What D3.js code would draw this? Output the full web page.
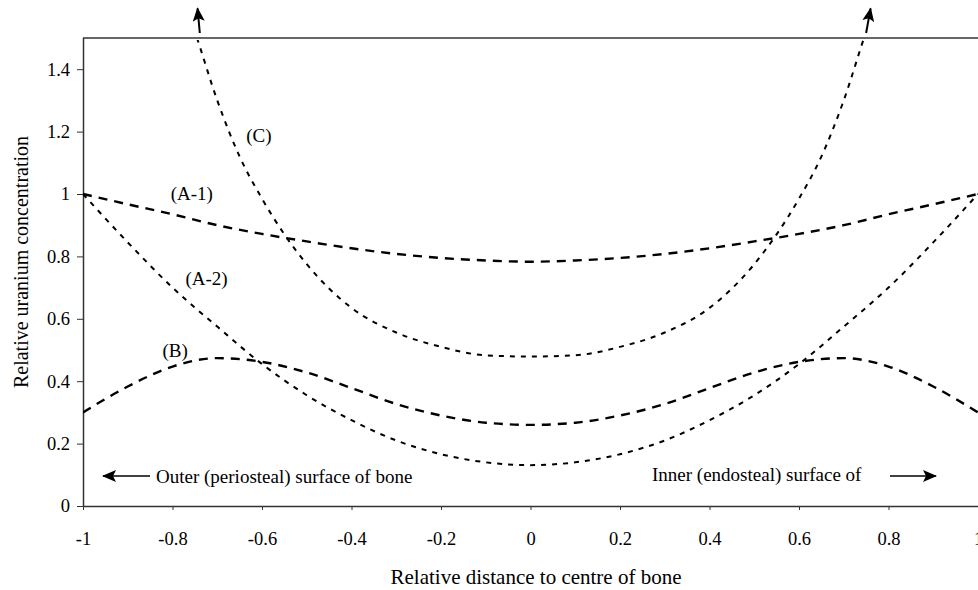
<!DOCTYPE html>
<html>
<head>
<meta charset="utf-8">
<script src="https://cdn.jsdelivr.net/npm/d3@7"></script>
<style>
  body { margin: 0; background: #fff; overflow: hidden; }
  svg { display: block; font-family: 'Times New Roman', 'Liberation Serif', serif; }
</style>
</head>
<body>
<div id="chart"></div>
<script>
// x positions (relative distance to centre of bone)
const xs = [-1, -0.9, -0.8, -0.7, -0.6, -0.5, -0.4, -0.3, -0.2, -0.1, 0,
            0.1, 0.2, 0.3, 0.4, 0.5, 0.6, 0.7, 0.8, 0.9, 1];
const a1 = [1.0, 0.967, 0.935, 0.90, 0.872, 0.848, 0.826, 0.808, 0.795, 0.787, 0.783,
            0.787, 0.795, 0.808, 0.826, 0.848, 0.872, 0.90, 0.935, 0.967, 1.0];
const a2 = [1.0, 0.845, 0.70, 0.575, 0.455, 0.355, 0.275, 0.21, 0.166, 0.14, 0.131,
            0.14, 0.166, 0.21, 0.275, 0.355, 0.455, 0.575, 0.70, 0.845, 1.0];
const b  = [0.30, 0.383, 0.447, 0.474, 0.462, 0.428, 0.378, 0.327, 0.29, 0.267, 0.26,
            0.267, 0.29, 0.327, 0.378, 0.428, 0.462, 0.474, 0.447, 0.383, 0.30];
// curve C leaves the plot at the top
const cx = [-0.77, -0.75, -0.7, -0.65, -0.6, -0.5, -0.4, -0.3, -0.2, -0.1, 0,
            0.1, 0.2, 0.3, 0.4, 0.5, 0.6, 0.65, 0.7, 0.75, 0.77];
const c  = [1.60, 1.52, 1.30, 1.12, 0.985, 0.775, 0.635, 0.556, 0.51, 0.483, 0.479,
            0.483, 0.51, 0.556, 0.635, 0.775, 0.985, 1.12, 1.30, 1.52, 1.60];

const xTicks = [-1, -0.8, -0.6, -0.4, -0.2, 0, 0.2, 0.4, 0.6, 0.8, 1];
const yTicks = [0, 0.2, 0.4, 0.6, 0.8, 1, 1.2, 1.4];

const curveLabels = [
  {text: '(A-1)', x: -0.757, y: 1.003},
  {text: '(A-2)', x: -0.724, y: 0.73},
  {text: '(B)', x: -0.794, y: 0.5},
  {text: '(C)', x: -0.607, y: 1.186}
];
// arrows at the ends of curve C, above the plot
const cArrows = [
  {x1: -0.739, y1: 1.516, x2: -0.744, y2: 1.595},
  {x1: 0.750, y1: 1.516, x2: 0.760, y2: 1.595}
];

const width = 978;
const height = 590;
const margin = {top: 38, right: 0, bottom: 84, left: 83};

const svg = d3.select('#chart')
  .append('svg')
  .attr('width', width)
  .attr('height', height);

const x = d3.scaleLinear()
  .domain([-1, 1])
  .range([margin.left, width - margin.right]);
const y = d3.scaleLinear()
  .domain([0, 1.5])
  .range([height - margin.bottom, margin.top]);

const defs = svg.append('defs');
defs.append('clipPath')
  .attr('id', 'plot-clip')
  .append('rect')
  .attr('x', margin.left)
  .attr('y', margin.top + 2)
  .attr('width', width - margin.left)
  .attr('height', y(0) - margin.top - 2);
defs.append('marker')
  .attr('id', 'head')
  .attr('viewBox', '0 0 14 12')
  .attr('refX', 13)
  .attr('refY', 6)
  .attr('markerUnits', 'userSpaceOnUse')
  .attr('markerWidth', 14)
  .attr('markerHeight', 12)
  .attr('orient', 'auto')
  .append('path')
  .attr('d', 'M0,0L14,6L0,12L3,6Z')
  .attr('fill', '#000');

const fmt = d => String(d);

// axes
const xAxis = svg.append('g')
  .attr('transform', `translate(0,${y(0)})`)
  .call(d3.axisBottom(x).tickValues(xTicks).tickSize(4).tickPadding(22).tickFormat(fmt));
const yAxis = svg.append('g')
  .attr('transform', `translate(${margin.left},0)`)
  .call(d3.axisLeft(y).tickValues(yTicks).tickSize(6).tickPadding(7).tickFormat(fmt));
[xAxis, yAxis].forEach(g => {
  g.select('.domain').attr('stroke', '#333').attr('stroke-width', 1.5);
  g.selectAll('.tick line').attr('stroke', '#333');
  g.selectAll('.tick text')
    .attr('fill', '#000')
    .style('font-family', "'Times New Roman', 'Liberation Serif', serif")
    .style('font-size', '18.5px');
});
yAxis.select('.domain').attr('d', `M0.5,${y(0)}V${margin.top}`);
xAxis.select('.domain').attr('d', `M${margin.left},0.5H${width}`);

// top border
svg.append('line')
  .attr('x1', margin.left)
  .attr('x2', width)
  .attr('y1', margin.top)
  .attr('y2', margin.top)
  .attr('stroke', '#333')
  .attr('stroke-width', 1.5);

const line = d3.line()
  .x(d => x(d[0]))
  .y(d => y(d[1]))
  .curve(d3.curveMonotoneX);

const series = [
  {name: 'A-1', px: xs, py: a1, dash: '9,7', w: 2.4},
  {name: 'A-2', px: xs, py: a2, dash: '5,6', w: 2},
  {name: 'B', px: xs, py: b, dash: '9,7', w: 2.4},
  {name: 'C', px: cx, py: c, dash: '5,6', w: 2}
];

svg.append('g')
  .attr('clip-path', 'url(#plot-clip)')
  .selectAll('path')
  .data(series)
  .join('path')
  .attr('d', d => line(d.px.map((v, i) => [v, d.py[i]])))
  .attr('fill', 'none')
  .attr('stroke', '#000')
  .attr('stroke-width', d => d.w)
  .attr('stroke-dasharray', d => d.dash);

svg.append('g')
  .selectAll('line')
  .data(cArrows)
  .join('line')
  .attr('x1', d => x(d.x1))
  .attr('y1', d => y(d.y1))
  .attr('x2', d => x(d.x2))
  .attr('y2', d => y(d.y2))
  .attr('stroke', '#000')
  .attr('stroke-width', 2)
  .attr('marker-end', 'url(#head)');

svg.append('g')
  .selectAll('text')
  .data(curveLabels)
  .join('text')
  .attr('x', d => x(d.x))
  .attr('y', d => y(d.y))
  .attr('text-anchor', 'middle')
  .attr('dominant-baseline', 'central')
  .style('font-size', '19px')
  .text(d => d.text);

// surface annotations
svg.append('line')
  .attr('x1', 150).attr('y1', 476)
  .attr('x2', 103).attr('y2', 476)
  .attr('stroke', '#000')
  .attr('stroke-width', 1.5)
  .attr('marker-end', 'url(#head)');
svg.append('text')
  .attr('x', 156)
  .attr('y', 476)
  .attr('dominant-baseline', 'central')
  .style('font-size', '19px')
  .text('Outer (periosteal) surface of bone');
svg.append('text')
  .attr('x', 652)
  .attr('y', 474)
  .attr('dominant-baseline', 'central')
  .style('font-size', '19px')
  .text('Inner (endosteal) surface of');
svg.append('line')
  .attr('x1', 890).attr('y1', 476)
  .attr('x2', 936).attr('y2', 476)
  .attr('stroke', '#000')
  .attr('stroke-width', 1.5)
  .attr('marker-end', 'url(#head)');

// axis titles
svg.append('text')
  .attr('x', 536)
  .attr('y', 577)
  .attr('text-anchor', 'middle')
  .attr('dominant-baseline', 'central')
  .style('font-size', '21px')
  .text('Relative distance to centre of bone');
svg.append('text')
  .attr('transform', 'translate(21,262) rotate(-90)')
  .attr('text-anchor', 'middle')
  .attr('dominant-baseline', 'central')
  .style('font-size', '20px')
  .text('Relative uranium concentration');
</script>
</body>
</html>
